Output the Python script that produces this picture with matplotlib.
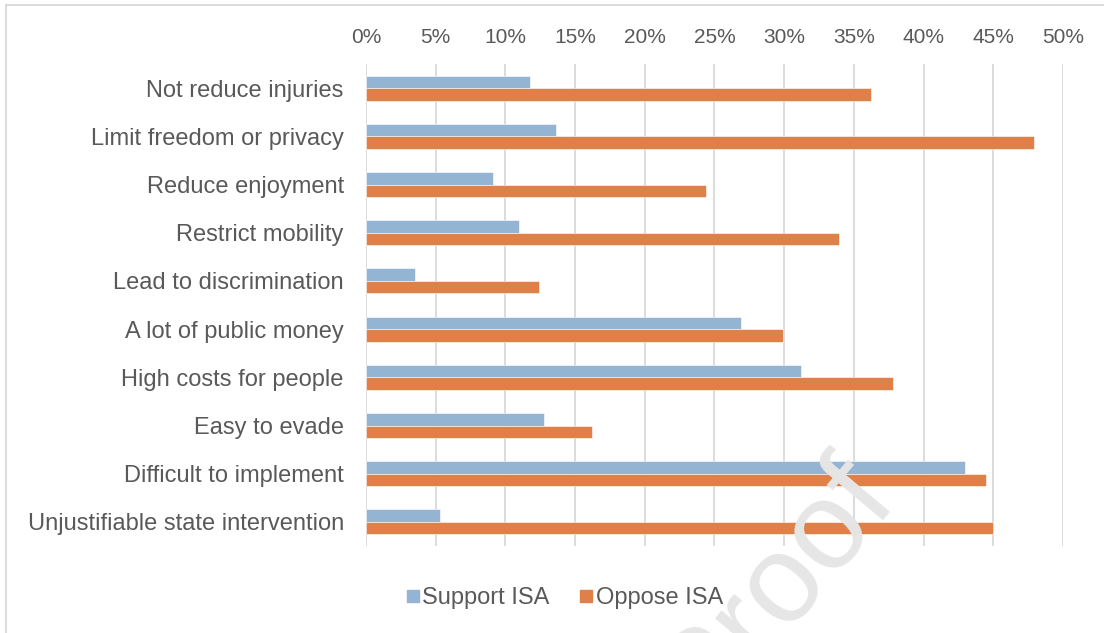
import matplotlib
matplotlib.use("Agg")
import matplotlib.pyplot as plt
from matplotlib.lines import Line2D
import numpy as np

plt.rcParams["font.family"] = ["Liberation Sans", "DejaVu Sans"]

reasons = [
    "Not reduce injuries",
    "Limit freedom or privacy",
    "Reduce enjoyment",
    "Restrict mobility",
    "Lead to discrimination",
    "A lot of public money",
    "High costs for people",
    "Easy to evade",
    "Difficult to implement",
    "Unjustifiable state intervention",
]
support_isa = [11.8, 13.6, 9.1, 11.0, 3.5, 26.9, 31.2, 12.8, 43.0, 5.3]
oppose_isa = [36.2, 47.9, 24.4, 33.9, 12.4, 29.9, 37.8, 16.2, 44.5, 45.0]
ticks = [0, 5, 10, 15, 20, 25, 30, 35, 40, 45, 50]

BLUE = "#94B4D4"
ORANGE = "#DE8048"
TXT = "#595959"

fig = plt.figure(figsize=(11.04, 6.33), dpi=100)
ax = fig.add_axes([366 / 1104, 1 - 546 / 633, (1063 - 366) / 1104, (546 - 64) / 633])

y = np.arange(len(reasons))
h = 0.26
ax.barh(y - h / 2, support_isa, height=h, color=BLUE, edgecolor="white",
        linewidth=0.4, label="Support ISA", zorder=3)
ax.barh(y + h / 2, oppose_isa, height=h, color=ORANGE, edgecolor="white",
        linewidth=0.4, label="Oppose ISA", zorder=3)

ax.set_ylim(len(reasons) - 0.5, -0.5)
ax.set_xlim(0, 50)
ax.set_yticks(y)
ax.set_yticklabels(reasons)
ax.set_xticks(ticks)
ax.set_xticklabels([f"{t}%" for t in ticks])
ax.xaxis.tick_top()
ax.tick_params(axis="both", length=0, labelcolor=TXT)
ax.tick_params(axis="x", labelsize=15, pad=12)
ax.tick_params(axis="y", labelsize=17, pad=16)
ax.grid(axis="x", color="#D9D9D9", linewidth=1.3, zorder=0)
for s in ax.spines.values():
    s.set_visible(False)

fig.legend(handles=[
    Line2D([], [], marker="s", ls="", color=BLUE, markersize=9, label="Support ISA"),
    Line2D([], [], marker="s", ls="", color=ORANGE, markersize=9, label="Oppose ISA"),
], loc="center", bbox_to_anchor=(556 / 1104, 1 - 598 / 633), ncol=2, frameon=False,
    fontsize=17, labelcolor=TXT, handletextpad=-0.6, columnspacing=0.55)

# chart frame (left and top edges only inside the canvas)
fig.add_artist(Line2D([6 / 1104, 6 / 1104], [0, 1 - 5 / 633], color="#D9D9D9",
                      lw=1.3, transform=fig.transFigure))
fig.add_artist(Line2D([6 / 1104, 1], [1 - 5 / 633, 1 - 5 / 633], color="#D9D9D9",
                      lw=1.3, transform=fig.transFigure))

# watermark
fig.text(775 / 1104, 1 - 587 / 633, "Proof", rotation=50, fontsize=90,
         color="#E6E6E6", ha="center", va="center", zorder=10)

fig.savefig("out.png", dpi=100)
